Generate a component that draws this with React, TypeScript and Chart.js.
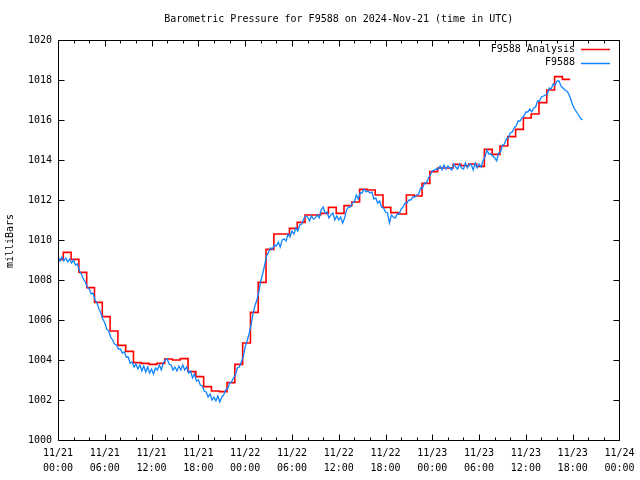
import React, { useEffect, useRef } from "react";
import { Chart, registerables } from "chart.js";

Chart.register(...registerables);

// ---- Data ----
const titleText = "Barometric Pressure for F9588 on 2024-Nov-21 (time in UTC)";
const yAxisLabel = "milliBars";
const seriesNames = ["F9588 Analysis", "F9588"];

// x tick labels (every 6 hours from 11/21 00:00 to 11/24 00:00)
const xTickDates = ["11/21", "11/21", "11/21", "11/21", "11/22", "11/22", "11/22", "11/22", "11/23", "11/23", "11/23", "11/23", "11/24"];
const xTickTimes = ["00:00", "06:00", "12:00", "18:00", "00:00", "06:00", "12:00", "18:00", "00:00", "06:00", "12:00", "18:00", "00:00"];
const yTickValues = [1000, 1002, 1004, 1006, 1008, 1010, 1012, 1014, 1016, 1018, 1020];

// Hourly analysis values (step changes at ~:41 past each hour)
const analysisStepOffsetHours = 0.68;
const analysisValues = [
  1009.02, 1009.38, 1009.03, 1008.38, 1007.62, 1006.88, 1006.17, 1005.45, 1004.73, 1004.43,
  1003.87, 1003.83, 1003.78, 1003.83, 1004.05, 1004.0, 1004.07, 1003.42, 1003.17, 1002.67,
  1002.45, 1002.42, 1002.87, 1003.78, 1004.85, 1006.38, 1007.88, 1009.53, 1010.3, 1010.3,
  1010.58, 1010.88, 1011.25, 1011.25, 1011.33, 1011.63, 1011.33, 1011.72, 1011.9, 1012.53,
  1012.5, 1012.25, 1011.63, 1011.37, 1011.3, 1012.25, 1012.2, 1012.83, 1013.42, 1013.6,
  1013.6, 1013.78, 1013.72, 1013.8, 1013.68, 1014.53, 1014.28, 1014.7, 1015.17, 1015.53,
  1016.1, 1016.3, 1016.87, 1017.5, 1018.17, 1018.03,
];

// Observations every 15 minutes, starting 11/21 00:00
const obsIntervalHours = 0.25;
const observedValues = [
  1009.2, 1008.95, 1009.15, 1008.95,
  1009.1, 1008.9, 1009.05, 1008.85,
  1009.0, 1008.75, 1008.8, 1008.45,
  1008.3, 1008.05, 1007.9, 1007.65,
  1007.55, 1007.3, 1007.35, 1007.0,
  1006.85, 1006.55, 1006.35, 1006.05,
  1005.85, 1005.55, 1005.45, 1005.15,
  1005.0, 1004.8, 1004.75, 1004.55,
  1004.55, 1004.35, 1004.4, 1004.15,
  1004.15, 1003.85, 1003.9, 1003.65,
  1003.8, 1003.55, 1003.75, 1003.45,
  1003.7, 1003.4, 1003.65, 1003.35,
  1003.55, 1003.3, 1003.6, 1003.5,
  1003.75, 1003.5, 1003.85, 1004.0,
  1004.05, 1003.8, 1003.75, 1003.5,
  1003.65, 1003.45, 1003.7, 1003.5,
  1003.75, 1003.5, 1003.65, 1003.35,
  1003.45, 1003.1, 1003.3, 1002.95,
  1003.0, 1002.75, 1002.7, 1002.45,
  1002.4, 1002.15, 1002.3, 1002.0,
  1002.15, 1001.95, 1002.2, 1001.9,
  1002.15, 1002.25, 1002.5, 1002.55,
  1002.85, 1002.9, 1003.1, 1003.25,
  1003.6, 1003.65, 1003.9, 1004.15,
  1004.65, 1004.95, 1005.3, 1005.75,
  1006.3, 1006.7, 1007.0, 1007.4,
  1007.95, 1008.3, 1008.75, 1009.2,
  1009.4, 1009.6, 1009.55, 1009.75,
  1009.7, 1009.9, 1009.65, 1010.0,
  1010.05, 1009.95, 1010.3, 1010.15,
  1010.45, 1010.3, 1010.6, 1010.45,
  1010.75, 1010.8, 1011.05, 1011.2,
  1011.15, 1010.95, 1011.2, 1011.05,
  1011.1, 1011.25, 1011.1, 1011.5,
  1011.65, 1011.35, 1011.4, 1011.1,
  1011.25, 1011.35, 1011.0, 1011.2,
  1011.0, 1011.15, 1010.85, 1011.1,
  1011.5, 1011.65, 1011.65, 1011.85,
  1011.9, 1012.25, 1012.05, 1012.35,
  1012.35, 1012.55, 1012.4, 1012.45,
  1012.35, 1012.4, 1012.05, 1012.1,
  1011.85, 1011.95, 1011.65, 1011.6,
  1011.4, 1011.35, 1010.85, 1011.25,
  1011.15, 1011.1, 1011.3, 1011.3,
  1011.55, 1011.65, 1011.85, 1011.85,
  1012.0, 1012.0, 1012.15, 1012.15,
  1012.25, 1012.3, 1012.6, 1012.6,
  1012.85, 1012.85, 1013.1, 1013.25,
  1013.45, 1013.5, 1013.55, 1013.55,
  1013.7, 1013.5, 1013.75, 1013.55,
  1013.7, 1013.6, 1013.5, 1013.8,
  1013.65, 1013.55, 1013.8, 1013.6,
  1013.55, 1013.85, 1013.6, 1013.8,
  1013.75, 1013.5, 1013.85, 1013.6,
  1013.8, 1013.65, 1013.95, 1014.15,
  1014.5, 1014.3, 1014.3, 1014.2,
  1014.1, 1013.95, 1014.35, 1014.4,
  1014.75, 1014.8, 1015.05, 1015.1,
  1015.35, 1015.4, 1015.6, 1015.7,
  1015.95, 1015.95, 1016.1, 1016.2,
  1016.4, 1016.4, 1016.55, 1016.4,
  1016.6, 1016.65, 1016.95, 1016.95,
  1017.15, 1017.2, 1017.25, 1017.3,
  1017.6, 1017.55, 1017.8, 1017.75,
  1017.95, 1017.95, 1017.7, 1017.6,
  1017.5, 1017.45, 1017.3, 1017.05,
  1016.75, 1016.55, 1016.4, 1016.25,
  1016.1, 1016.0,
];

const X_MIN = 0;
const X_MAX = 72;
const X_MAJOR = 6;
const X_MINOR = 2;
const Y_MIN = 1000;
const Y_MAX = 1020;
const Y_STEP = 2;

const RED = "#ff0000";
const BLUE = "rgb(16,132,255)";
const FONT = "'DejaVu Sans Mono', 'Liberation Mono', monospace";

function buildAnalysisPoints() {
  const pts: { x: number; y: number }[] = [];
  pts.push({ x: 0, y: analysisValues[0] });
  for (let k = 1; k < analysisValues.length; k++) {
    pts.push({ x: k - 1 + analysisStepOffsetHours, y: analysisValues[k] });
  }
  const last = analysisValues.length - 1;
  pts.push({ x: last + analysisStepOffsetHours, y: analysisValues[last] });
  return pts;
}

function buildObservedPoints() {
  return observedValues.map((v, i) => ({ x: i * obsIntervalHours, y: v }));
}

const framePlugin = {
  id: "gnuplotFrame",
  afterDraw(chart: any) {
    const { ctx, chartArea } = chart;
    const xs = chart.scales.x;
    const ys = chart.scales.y;
    const L = Math.round(chartArea.left) + 0.5;
    const R = Math.round(chartArea.right) + 0.5;
    const T = Math.round(chartArea.top) + 0.5;
    const B = Math.round(chartArea.bottom) + 0.5;
    ctx.save();
    ctx.strokeStyle = "#000";
    ctx.lineWidth = 1;
    ctx.beginPath();
    ctx.rect(L, T, R - L, B - T);
    // x ticks (bottom and top, inward)
    for (let v = X_MIN; v <= X_MAX + 1e-9; v += X_MINOR) {
      const px = Math.round(xs.getPixelForValue(v)) + 0.5;
      const len = Math.abs(v % X_MAJOR) < 1e-9 ? 6 : 3;
      ctx.moveTo(px, B);
      ctx.lineTo(px, B - len);
      ctx.moveTo(px, T);
      ctx.lineTo(px, T + len);
    }
    // y ticks (left and right, inward)
    for (const v of yTickValues) {
      const py = Math.round(ys.getPixelForValue(v)) + 0.5;
      ctx.moveTo(L, py);
      ctx.lineTo(L + 6, py);
      ctx.moveTo(R, py);
      ctx.lineTo(R - 6, py);
    }
    ctx.stroke();

    // title
    ctx.fillStyle = "#000";
    ctx.font = `10px ${FONT}`;
    ctx.textAlign = "center";
    ctx.textBaseline = "middle";
    ctx.fillText(titleText, (chartArea.left + chartArea.right) / 2, 19);

    // y axis label
    ctx.save();
    ctx.translate(10, (chartArea.top + chartArea.bottom) / 2 + 1);
    ctx.rotate(-Math.PI / 2);
    ctx.fillText(yAxisLabel, 0, 0);
    ctx.restore();

    // legend
    ctx.textAlign = "right";
    const legendColors = [RED, BLUE];
    seriesNames.forEach((name, i) => {
      const y = 49 + i * 13.5;
      ctx.fillStyle = "#000";
      ctx.fillText(name, 575, y);
      ctx.strokeStyle = legendColors[i];
      ctx.lineWidth = 1.5;
      ctx.beginPath();
      ctx.moveTo(581, Math.round(y) + 0.5);
      ctx.lineTo(610, Math.round(y) + 0.5);
      ctx.stroke();
    });
    ctx.restore();
  },
};

export default function App() {
  const canvasRef = useRef<HTMLCanvasElement | null>(null);

  useEffect(() => {
    if (!canvasRef.current) return;
    const chart = new Chart(canvasRef.current, {
      type: "line",
      data: {
        datasets: [
          {
            label: seriesNames[0],
            data: buildAnalysisPoints(),
            borderColor: RED,
            borderWidth: 1.6,
            stepped: true,
            pointRadius: 0,
            fill: false,
            order: 1,
          },
          {
            label: seriesNames[1],
            data: buildObservedPoints(),
            borderColor: BLUE,
            borderWidth: 1.3,
            pointRadius: 0,
            tension: 0,
            fill: false,
            order: 0,
          },
        ],
      },
      options: {
        responsive: false,
        animation: false,
        devicePixelRatio: 1,
        layout: { padding: { top: 40, right: 18, left: 0, bottom: 0 } },
        plugins: {
          legend: { display: false },
          title: { display: false },
          tooltip: { enabled: false },
        },
        scales: {
          x: {
            type: "linear",
            min: X_MIN,
            max: X_MAX,
            grid: { display: false, drawTicks: false },
            border: { display: false },
            afterFit: (s: any) => {
              s.height = 40;
            },
            afterBuildTicks: (s: any) => {
              s.ticks = xTickDates.map((_, i) => ({ value: X_MIN + i * X_MAJOR }));
            },
            ticks: {
              autoSkip: false,
              maxRotation: 0,
              minRotation: 0,
              padding: 5.5,
              color: "#000",
              font: { family: FONT, size: 10, lineHeight: 1.5 },
              callback: (v: any) => {
                const i = Math.round((Number(v) - X_MIN) / X_MAJOR);
                return [xTickDates[i], xTickTimes[i]];
              },
            },
          },
          y: {
            type: "linear",
            min: Y_MIN,
            max: Y_MAX,
            grid: { display: false, drawTicks: false },
            border: { display: false },
            afterFit: (s: any) => {
              s.width = 58;
            },
            afterBuildTicks: (s: any) => {
              s.ticks = yTickValues.map((v) => ({ value: v }));
            },
            ticks: {
              padding: 6,
              color: "#000",
              font: { family: FONT, size: 10 },
              stepSize: Y_STEP,
              callback: (v: any) => String(v),
            },
          },
        },
      },
      plugins: [framePlugin],
    } as any);
    return () => chart.destroy();
  }, []);

  return (
    <div style={{ position: "fixed", left: 0, top: 0, width: 640, height: 480, background: "#fff" }}>
      <canvas ref={canvasRef} width={640} height={480} />
    </div>
  );
}
